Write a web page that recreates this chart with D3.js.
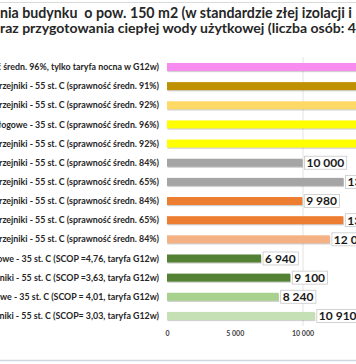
<!DOCTYPE html>
<html><head><meta charset="utf-8">
<script src="https://cdn.jsdelivr.net/npm/d3@7"></script>
<style>html,body{margin:0;padding:0;background:#fff;overflow:hidden}</style>
</head><body>
<svg id="c" width="356" height="364"></svg>
<script>
const titleLines = [
  "nia budynku  o pow. 150 m2 (w standardzie złej izolacji i",
  "raz przygotowania ciepłej wody użytkowej (liczba osób: 4"
];
const categories = [
  "(sprawność średn. 96%, tylko taryfa nocna w G12w)",
  "grzejniki - 55 st. C (sprawność średn. 91%)",
  "grzejniki - 55 st. C (sprawność średn. 92%)",
  "podłogowe - 35 st. C (sprawność średn. 96%)",
  "grzejniki - 55 st. C (sprawność średn. 92%)",
  "grzejniki - 55 st. C (sprawność średn. 84%)",
  "grzejniki - 55 st. C (sprawność średn. 65%)",
  "grzejniki - 55 st. C (sprawność średn. 84%)",
  "grzejniki - 55 st. C (sprawność średn. 65%)",
  "grzejniki - 55 st. C (sprawność średn. 84%)",
  "podłogowe - 35 st. C (SCOP =4,76, taryfa G12w)",
  "grzejniki - 55 st. C (SCOP =3,63, taryfa G12w)",
  "podłogowe - 35 st. C (SCOP = 4,01, taryfa G12w)",
  "grzejniki - 55 st. C (SCOP= 3,03, taryfa G12w)"
];
const values = [21000, 16500, 16000, 15500, 15000, 10000, 13030, 9980, 13010, 12020, 6940, 9100, 8240, 10910];
const colors = ["#F78BEF","#BF9000","#FFD966","#FFFF00","#FFFF00","#A5A5A5","#A5A5A5","#ED7D31","#ED7D31","#F4B183","#548235","#548235","#A9D18E","#C5E0B4"];
const tickValues = [0, 5000, 10000, 15000, 20000];

const svg = d3.select("#c");
const FONT = "Lato, 'Open Sans', sans-serif";
const fmt = v => d3.format(",")(v).replace(/,/g, " ");

// frame lines
svg.append("line").attr("x1",0).attr("x2",356).attr("y1",2.5).attr("y2",2.5).attr("stroke","#d9d9d9").attr("stroke-width",1);
svg.append("line").attr("x1",0).attr("x2",356).attr("y1",360.5).attr("y2",360.5).attr("stroke","#cdd7e2").attr("stroke-width",1.5);

// title
const titleY = [18, 32.5];
titleLines.forEach((t,i)=>{
  const el = svg.append("text").attr("x",0).attr("y",titleY[i])
    .attr("font-family",FONT).attr("font-weight",700).attr("font-size",13)
    .style("white-space","pre")
    .attr("fill","#262626").text(t);
  const w = el.node().getComputedTextLength();
  const target = i===0 ? 352 : 356;
  el.attr("font-size", 13*target/w);
});

const x = d3.scaleLinear().domain([0,10000]).range([167,302.5]);
const y = d3.scaleBand().domain(d3.range(categories.length)).range([57.4, 57.4+14*19.15]).paddingInner(0.582).paddingOuter(0.291);

// gridlines
svg.append("g").selectAll("line").data(tickValues.filter(d=>d>0 && d%10000===0)).join("line")
  .attr("x1",d=>x(d)+0.5).attr("x2",d=>x(d)+0.5).attr("y1",57).attr("y2",326)
  .attr("stroke","#e3e3e3").attr("stroke-width",1);

// category labels
const probe = svg.append("text").attr("font-family",FONT).attr("font-weight",700).attr("font-size",10)
  .text("rzejniki - 55 st. C (sprawność średn. 91%)");
const pw = probe.node().getComputedTextLength();
probe.remove();
const labFS = 10*160/pw;
svg.append("g").selectAll("text").data(categories).join("text")
  .attr("x",159).attr("y",(d,i)=>y(i)+y.bandwidth()/2).attr("dy","0.35em")
  .attr("text-anchor","end").attr("font-family",FONT).attr("font-weight",700)
  .attr("font-size",labFS).attr("fill","#262626").text(d=>d);

// bar shadows
svg.append("g").selectAll("rect").data(values).join("rect")
  .attr("x",x(0)+0.5).attr("y",(d,i)=>y(i)+1.2).attr("width",d=>x(d)-x(0)).attr("height",y.bandwidth())
  .attr("fill","#000").attr("opacity",0.18);
// bars
svg.append("g").selectAll("rect").data(values).join("rect")
  .attr("x",x(0)).attr("y",(d,i)=>y(i)).attr("width",d=>x(d)-x(0)).attr("height",y.bandwidth())
  .attr("fill",(d,i)=>colors[i]);

// value labels
const vl = svg.append("g").selectAll("g").data(values).join("g")
  .attr("transform",(d,i)=>`translate(${x(d)+1.5},${y(i)+y.bandwidth()/2})`);
vl.each(function(d){
  const g = d3.select(this);
  const r = g.append("rect").attr("fill","#fff").attr("stroke","#c8c8c8").attr("stroke-width",0.8);
  const t = g.append("text").attr("x",2.5).attr("dy","0.36em").attr("font-family",FONT).attr("font-weight",700)
    .attr("font-size",12).attr("fill","#1a1a1a").text(fmt(d));
  const w = t.node().getComputedTextLength();
  r.attr("x",0.5).attr("y",-6.5).attr("width",w+4.5).attr("height",13);
});

// axis
const axis = d3.axisBottom(x).tickValues(tickValues).tickFormat(fmt).tickSize(0).tickPadding(0);
const ax = svg.append("g").attr("transform","translate(0,331)").call(axis);
ax.select(".domain").remove();
ax.selectAll("text").attr("font-family",FONT).attr("font-size",7).attr("fill","#404040").attr("font-weight",700);
</script>
</body></html>
